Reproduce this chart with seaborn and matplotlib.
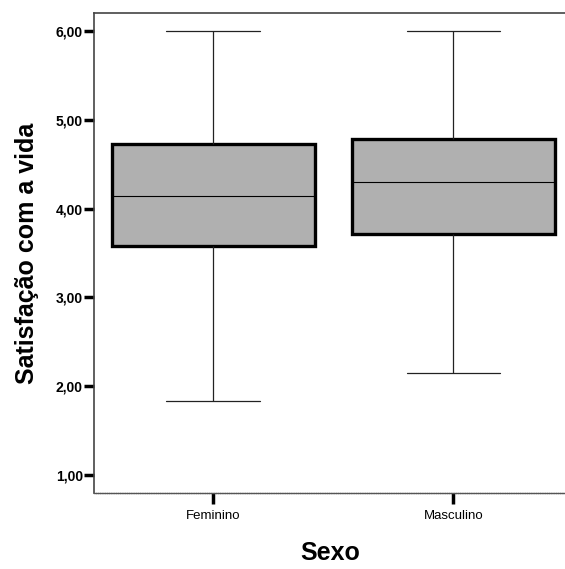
import numpy as np
import pandas as pd
import matplotlib
matplotlib.use("Agg")
import matplotlib.pyplot as plt
import seaborn as sns

# Data: five-number summaries (min, Q1, median, Q3, max)
categories = ["Feminino", "Masculino"]
feminino_vals = [1.84, 3.58, 4.14, 4.73, 6.00]
masculino_vals = [2.15, 3.71, 4.30, 4.78, 6.00]
y_ticks = [1, 2, 3, 4, 5, 6]
y_tick_labels = ["1,00", "2,00", "3,00", "4,00", "5,00", "6,00"]

df = pd.DataFrame({
    "Sexo": [categories[0]] * len(feminino_vals) + [categories[1]] * len(masculino_vals),
    "Satisfação com a vida": feminino_vals + masculino_vals,
})

sns.set_style("white")
plt.rcParams["font.family"] = ["Liberation Sans", "DejaVu Sans"]
plt.rcParams["text.color"] = "black"
plt.rcParams["axes.labelcolor"] = "black"
plt.rcParams["xtick.color"] = "black"
plt.rcParams["ytick.color"] = "black"

fig = plt.figure(figsize=(5.65, 5.69), dpi=100)
ax = fig.add_axes([94 / 565, 1 - 493 / 569, 1 - 94 / 565 + 0.001, (493 - 13) / 569])

sns.boxplot(
    data=df, x="Sexo", y="Satisfação com a vida", order=categories,
    color="#b0b0b0", width=0.846, whis=np.inf, ax=ax,
    boxprops=dict(edgecolor="black", linewidth=2.4, facecolor="#b0b0b0"),
    medianprops=dict(color="black", linewidth=0.8),
    whiskerprops=dict(color="#222222", linewidth=0.9),
    capprops=dict(color="#222222", linewidth=0.9),
    capwidths=0.39,
    showfliers=False,
)

ax.set_ylim(0.80, 6.20)
ax.set_xlim(-0.496, 1.467)
ax.set_yticks(y_ticks)
ax.set_yticklabels(y_tick_labels, fontsize=10, fontweight="bold")
ax.set_xticks([0, 1])
ax.set_xticklabels(categories, fontsize=9.5)
ax.tick_params(axis="y", direction="out", length=7, width=2.5, colors="black", pad=1, left=True)
ax.tick_params(axis="x", direction="out", length=8, width=2.5, colors="black", pad=4, bottom=True)

ax.set_ylabel("Satisfação com a vida", fontsize=18, fontweight="bold", labelpad=12, color="black")
ax.set_xlabel("Sexo", fontsize=18, fontweight="bold", labelpad=14, color="black")

for s in ["top", "left"]:
    ax.spines[s].set_visible(True)
    ax.spines[s].set_color("#444444")
    ax.spines[s].set_linewidth(1.2)
ax.spines["bottom"].set_visible(True)
ax.spines["bottom"].set_color("#555555")
ax.spines["bottom"].set_linewidth(1.0)
ax.spines["bottom"].set_linestyle((0, (1, 0.6)))
ax.spines["right"].set_visible(False)

fig.savefig("out.png", dpi=100)
